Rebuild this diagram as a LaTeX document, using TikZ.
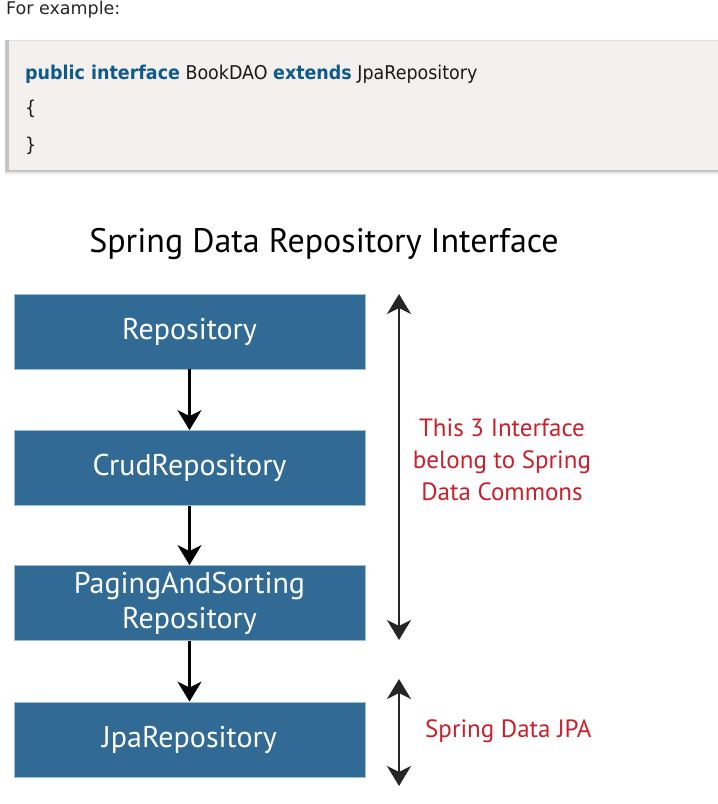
\documentclass[tikz,border=0pt]{standalone}
\usepackage{fontspec}
\setmainfont{PT Sans}
\newfontfamily\verd{DejaVu Sans}
\newfontfamily\codef[FakeStretch=0.92]{DejaVu Sans}
\usetikzlibrary{arrows.meta}
\definecolor{boxblue}{HTML}{316A95}
\definecolor{boxedge}{HTML}{9DBCD6}
\definecolor{redtxt}{HTML}{C9202C}
\definecolor{kw}{HTML}{0E5A8A}
\definecolor{codebg}{HTML}{F3F0EE}
\definecolor{codebar}{HTML}{C4C4C4}
\begin{document}
\begin{tikzpicture}[x=1pt,y=-1pt,
  iface/.style={fill=boxblue,draw=boxedge,line width=0.8pt,minimum width=351pt,minimum height=75pt,
    text=white,align=center,font=\fontsize{30}{36}\selectfont,inner sep=0pt},
  flow/.style={line width=2.6pt,-{Stealth[length=20pt,width=24pt,inset=6pt]}},
  span/.style={line width=2.6pt,draw=black!85,{Stealth[length=20pt,width=24pt,inset=6pt]}-{Stealth[length=20pt,width=24pt,inset=6pt]}},
  note/.style={text=redtxt,align=center,font=\fontsize{25}{32}\selectfont,inner sep=0pt},
  codetxt/.style={anchor=base west,inner sep=0pt,font=\codef\fontsize{19}{22}\selectfont,text=black!90}]
\useasboundingbox (0,0) rectangle (718,804);
\fill[white] (0,0) rectangle (718,804);
% intro
\node[anchor=base west,inner sep=0pt,font=\verd\fontsize{17.5}{20}\selectfont,text=black!85] (intro) at (6,14) {For example:};
% code box shadow
\foreach \i/\o in {1/0.09,2/0.07,3/0.05,4/0.035,5/0.02,6/0.01}{
  \fill[black,opacity=\o] (5,40+\i) rectangle (718,170+\i);
}
\fill[codebg] (5,40) rectangle (718,170);
\draw[black!12,line width=0.8pt] (5,40.4) -- (718,40.4);
\fill[codebar] (5,40) rectangle (9,170);
\node[codetxt] (code1) at (25,79)
  {\textcolor{kw}{\bfseries public interface} BookDAO \textcolor{kw}{\bfseries extends} JpaRepository};
\node[codetxt] (code2) at (25,114) {\{};
\node[codetxt] (code3) at (25,151) {\}};
% title
\node[anchor=base,font=\fontsize{34}{40}\selectfont,inner sep=0pt] (title) at (324,252) {Spring Data Repository Interface};
% boxes
\node[iface] (repo) at (189.5,331.5) {Repository};
\node[iface] (crud) at (189.5,468) {CrudRepository};
\node[iface] (paging) at (189.5,603) {PagingAndSorting\\[-1pt]Repository};
\node[iface] (jpa) at (189.5,739.5) {JpaRepository};
\draw[flow] (repo.south) -- (crud.north);
\draw[flow] (crud.south) -- (paging.north);
\draw[flow] (paging.south) -- (jpa.north);
% spans
\coordinate (s1top) at (399,294);
\coordinate (s1bot) at (399,640);
\coordinate (s2top) at (399,679);
\coordinate (s2bot) at (399,786);
\draw[span] (s1top) -- (s1bot);
\draw[span] (s2top) -- (s2bot);
\node[note] (commons) at (502,460) {This 3 Interface\\belong to Spring\\Data Commons};
\node[note,anchor=west] (jpanote) at (425,731) {Spring Data JPA};
\end{tikzpicture}
\end{document}
